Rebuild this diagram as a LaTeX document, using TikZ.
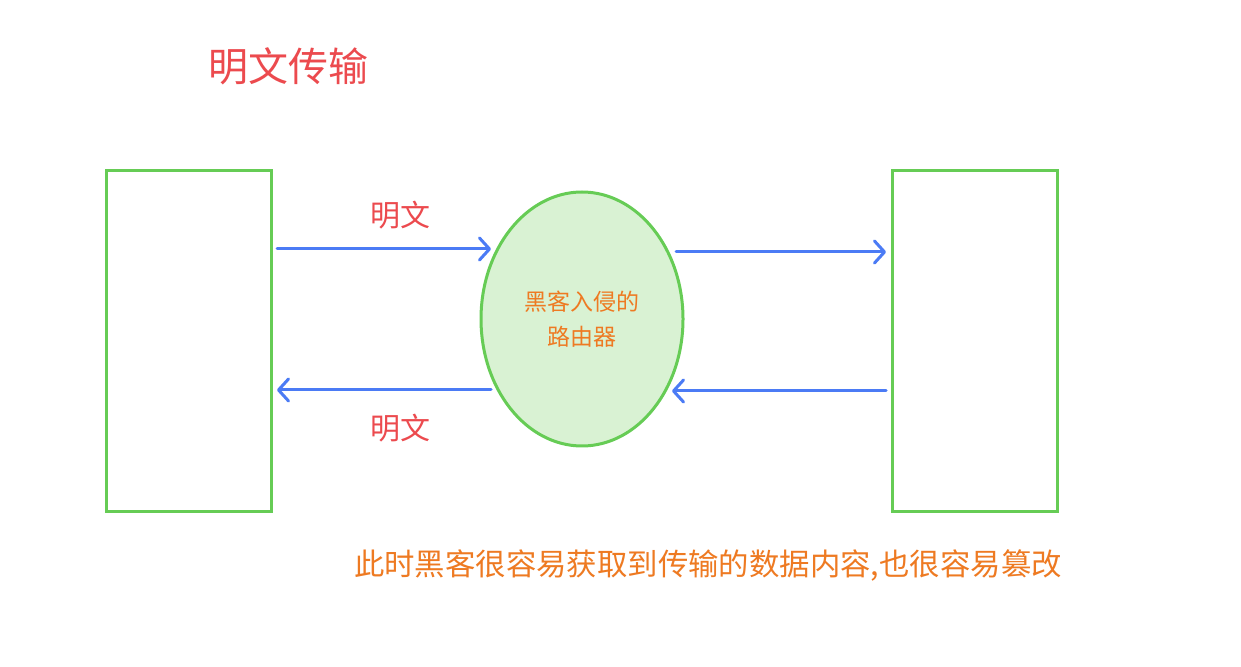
\documentclass[tikz,border=0pt]{standalone}
\usepackage{fontspec}
\setmainfont{Noto Sans CJK SC}
\usetikzlibrary{shapes.geometric,arrows.meta}
\definecolor{boxgreen}{HTML}{66CC55}
\definecolor{fillgreen}{HTML}{D9F2D3}
\definecolor{arrowblue}{HTML}{4B7BF5}
\definecolor{txtred}{HTML}{EC4A4E}
\definecolor{txtorange}{HTML}{EE7A22}
\tikzset{
  hostbox/.style={draw=boxgreen, line width=1.5pt, minimum width=82.5pt, minimum height=170pt, inner sep=0pt},
  router/.style={ellipse, draw=boxgreen, fill=fillgreen, line width=1.5pt, minimum width=101pt, minimum height=127pt, inner sep=0pt},
  flow/.style={draw=arrowblue, line width=1.5pt, line cap=round, -{Straight Barb[length=5pt, width=11pt, line width=1.5pt, round]}},
  redlabel/.style={text=txtred, font=\fontsize{15pt}{18pt}\selectfont, inner sep=0pt},
}
\begin{document}
\begin{tikzpicture}[x=0.5pt, y=-0.5pt]
\useasboundingbox (0,0) rectangle (1241,667);
\fill[white] (0,0) rectangle (1241,667);
\node[text=txtred, font=\fontsize{20pt}{24pt}\selectfont, inner sep=0pt] (title) at (288,66) {明文传输};
\node[hostbox] (left) at (188.5,341) {};
\node[hostbox] (right) at (974.5,341) {};
\node[router, text=txtorange, align=center, font=\fontsize{11.5pt}{17.5pt}\selectfont] (rt) at (582,319) {黑客入侵的\\路由器};
\coordinate (a1s) at (277,249);
\coordinate (a1e) at (491,249);
\coordinate (a2s) at (676,252);
\coordinate (a2e) at (886,252);
\coordinate (a3s) at (886,391);
\coordinate (a3e) at (672,391);
\coordinate (a4s) at (491,390);
\coordinate (a4e) at (277,390);
\draw[flow] (a1s) -- (a1e);
\draw[flow] (a2s) -- (a2e);
\draw[flow] (a3s) -- (a3e);
\draw[flow] (a4s) -- (a4e);
\node[redlabel] (l1) at (400,215) {明文};
\node[redlabel] (l2) at (400,428) {明文};
\node[text=txtorange, font=\fontsize{15.2pt}{18pt}\selectfont, inner sep=0pt] (note) at (708,565) {此时黑客很容易获取到传输的数据内容,也很容易篡改};
\end{tikzpicture}
\end{document}
